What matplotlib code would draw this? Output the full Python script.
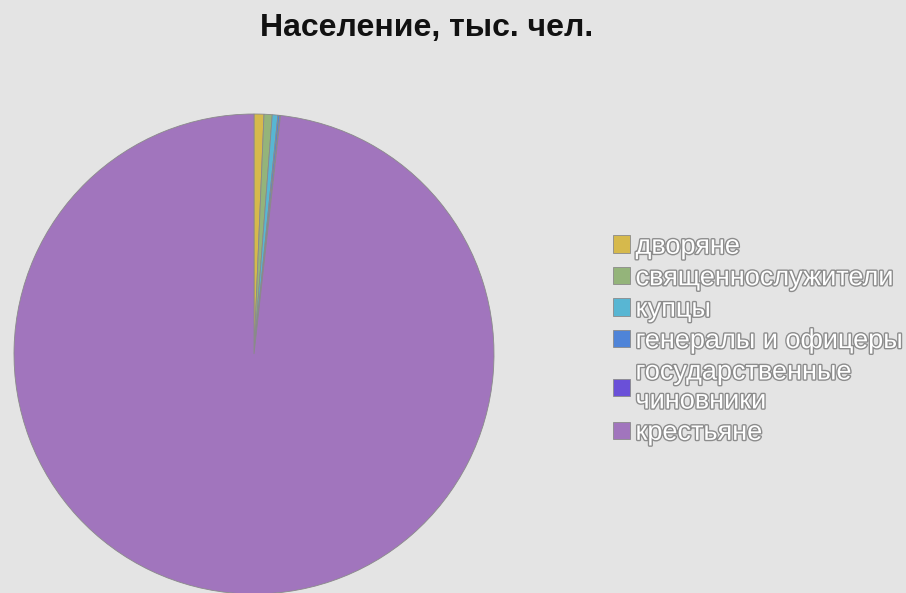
import matplotlib.pyplot as plt
import matplotlib.patheffects as pe

plt.rcParams['font.family'] = ['Liberation Sans', 'DejaVu Sans']

# Население по сословиям, тыс. чел.
labels = ['дворяне', 'священнослужители', 'купцы', 'генералы и офицеры',
          'государственные\nчиновники', 'крестьяне']
values = [230, 190, 130, 45, 15, 34000]
colors = ['#d6b94c', '#94b47a', '#58b6d3', '#4f84d8', '#6a50d8', '#a175bd']

fig = plt.figure(figsize=(9.06, 5.93), dpi=100)
fig.patch.set_facecolor('#e4e4e4')

# pie axes: centre ~ (254, 354) px, radius ~ 240 px
ax = fig.add_axes([14 / 906, -1 / 593, 480 / 906, 480 / 593])
ax.set_facecolor('none')
wedges, _ = ax.pie(values, colors=colors, startangle=90, counterclock=False,
                   radius=1, wedgeprops=dict(edgecolor='#8a8a8a', linewidth=0.6))
ax.set_xlim(-1, 1)
ax.set_ylim(-1, 1)
ax.set_aspect('equal')
ax.axis('off')

fig.text(0.471, 0.952, 'Население, тыс. чел.', ha='center', va='center',
         fontsize=23, fontweight='bold', color='#111111')

leg = fig.legend(wedges, labels, loc='center left', bbox_to_anchor=(0.662, 0.427),
                 frameon=False, fontsize=19.5, handlelength=0.62, handleheight=0.62,
                 handletextpad=0.2, labelspacing=0.2, borderpad=0)
for h in leg.legend_handles:
    h.set_edgecolor('#8a8a8a')
for t in leg.get_texts():
    t.set_color('white')
    t.set_linespacing(1.15)
    t.set_path_effects([pe.withStroke(linewidth=2, foreground='#8c8c8c')])

fig.savefig('out.png', dpi=100, facecolor=fig.get_facecolor())
